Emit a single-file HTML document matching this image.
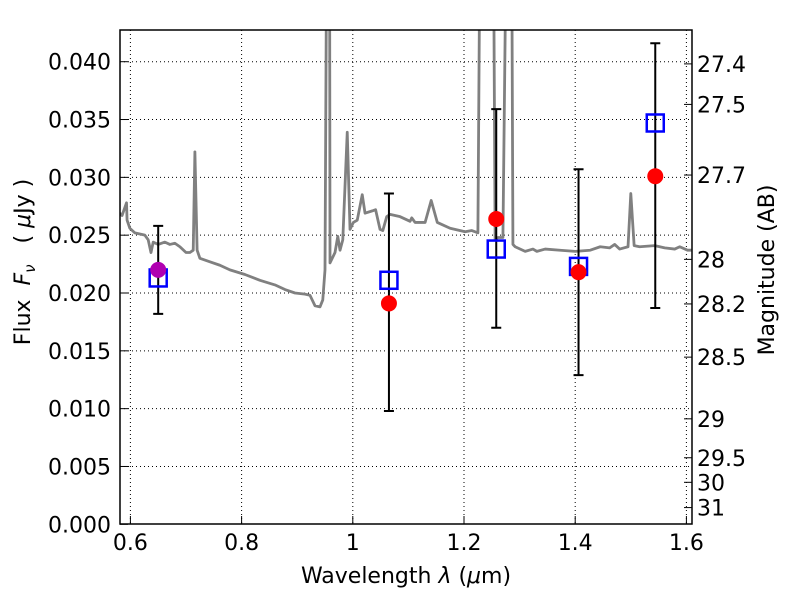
<!DOCTYPE html>
<html><head><meta charset="utf-8"><style>
body{margin:0;background:#fff;}
svg text{font-family:"DejaVu Sans","Liberation Sans",sans-serif;}
</style></head><body>
<svg id="chart" width="800" height="600" viewBox="0 0 800 600" xmlns="http://www.w3.org/2000/svg">
<defs><clipPath id="plotclip"><rect x="120" y="30" width="572" height="494"/></clipPath></defs>
<rect x="120" y="30" width="572" height="494" fill="#fff"/>
<g id="grid"></g>
<g id="spec" clip-path="url(#plotclip)"></g>
<g id="marks"></g>
<rect x="120" y="30" width="572" height="494" fill="none" stroke="#000" stroke-width="1.5"/>
<g id="axes"></g>
<text x="406" y="583" font-size="22" text-anchor="middle">Wavelength  <tspan font-style="italic">λ</tspan> (<tspan font-style="italic">μ</tspan>m)</text>
<text transform="translate(30,262) rotate(-90)" font-size="22" text-anchor="middle" xml:space="preserve">Flux  <tspan font-style="italic">F</tspan><tspan font-style="italic" font-size="15" dy="5">ν</tspan><tspan dy="-5">   ( </tspan><tspan font-style="italic">μ</tspan>Jy )</text>
<text transform="translate(774,270) rotate(-90)" font-size="22" text-anchor="middle">Magnitude (AB)</text>
</svg>
<script>
const specWave=[0.581,0.585,0.593,0.594,0.599,0.608,0.626,0.632,0.637,0.641,0.650,0.662,0.671,0.680,0.689,0.700,0.707,0.713,0.716,0.720,0.725,0.743,0.761,0.779,0.806,0.833,0.860,0.878,0.896,0.914,0.923,0.932,0.941,0.946,0.950,0.954,0.958,0.959,0.968,0.973,0.977,0.982,0.990,0.995,1.001,1.008,1.017,1.022,1.035,1.041,1.049,1.054,1.061,1.067,1.085,1.103,1.106,1.112,1.130,1.141,1.152,1.175,1.202,1.214,1.225,1.230,1.252,1.256,1.261,1.270,1.278,1.285,1.288,1.292,1.310,1.324,1.331,1.346,1.373,1.400,1.427,1.445,1.462,1.471,1.480,1.495,1.500,1.506,1.516,1.543,1.561,1.579,1.588,1.602,1.609];
const specFlux=[0.0269,0.0267,0.0278,0.0263,0.0256,0.0252,0.0250,0.0246,0.0235,0.0244,0.0242,0.0244,0.0242,0.0243,0.0240,0.0235,0.0235,0.0237,0.0322,0.0237,0.0230,0.0227,0.0224,0.0220,0.0216,0.0211,0.0207,0.0203,0.0200,0.0199,0.0198,0.0189,0.0188,0.0194,0.0220,0.060,0.060,0.0226,0.0235,0.0249,0.0237,0.0246,0.0339,0.0255,0.0261,0.0263,0.0285,0.0269,0.0271,0.0272,0.0255,0.0254,0.0266,0.0268,0.0266,0.0262,0.0265,0.0261,0.0261,0.0280,0.0261,0.0256,0.0253,0.0254,0.0252,0.060,0.060,0.0246,0.0248,0.0248,0.060,0.060,0.0242,0.0240,0.0236,0.0238,0.0236,0.0238,0.0237,0.0236,0.0237,0.0240,0.0239,0.0242,0.0238,0.0240,0.0286,0.0241,0.0240,0.0241,0.0239,0.0238,0.0240,0.0237,0.0237];
const photWave=[0.650,1.065,1.258,1.406,1.544];
const obsFlux=[0.0220,0.0191,0.0264,0.0218,0.0301];
const errHigh=[0.0258,0.0286,0.0359,0.0307,0.0416];
const errLow=[0.0182,0.0098,0.0170,0.0129,0.0187];
const modelFlux=[0.0213,0.0211,0.0238,0.0223,0.0347];
const xTicks=[0.6,0.8,1.0,1.2,1.4,1.6];
const xTickLabels=["0.6","0.8","1","1.2","1.4","1.6"];
const yTicks=[0,0.005,0.010,0.015,0.020,0.025,0.030,0.035,0.040];
const yTickLabels=["0.000","0.005","0.010","0.015","0.020","0.025","0.030","0.035","0.040"];
const magTicks=[27.4,27.5,27.7,28,28.2,28.5,29,29.5,30,31];
const magLabels=["27.4","27.5","27.7","28","28.2","28.5","29","29.5","30","31"];

const NS="http://www.w3.org/2000/svg";
const X=w=>130.4+(w-0.6)*556;
const Y=f=>524.3-f*11565;
function mk(tag,attrs,parent){const e=document.createElementNS(NS,tag);for(const k in attrs)e.setAttribute(k,attrs[k]);parent.appendChild(e);return e;}
const grid=document.getElementById('grid'),axes=document.getElementById('axes'),spec=document.getElementById('spec'),marks=document.getElementById('marks');
xTicks.forEach((t,i)=>{
  const g=mk('line',{x1:X(t),x2:X(t),y1:30,y2:524,stroke:'#000','stroke-width':1,'stroke-dasharray':'1,3'},grid);
  
  
  const tk=mk('line',{x1:X(t),x2:X(t),y1:524,y2:516,stroke:'#000'},axes);
  
  
  const tx=mk('text',{x:X(t),y:550,'font-size':22,'text-anchor':'middle'},axes);
  tx.textContent=xTickLabels[i];
  
  
});
yTicks.forEach((t,i)=>{
  if(t>0){const g=mk('line',{x1:120,x2:692,y1:Y(t),y2:Y(t),stroke:'#000','stroke-width':1,'stroke-dasharray':'1,3'},grid);
  
  }
  const tk=mk('line',{x1:120,x2:128,y1:Y(t),y2:Y(t),stroke:'#000'},axes);
  
  
  const tx=mk('text',{x:111,y:Y(t)+8,'font-size':22,'text-anchor':'end'},axes);
  tx.textContent=yTickLabels[i];
  
  
});
magTicks.forEach((m,i)=>{
  const f=Math.pow(10,(23.9-m)/2.5);
  const tk=mk('line',{x1:684,x2:692,y1:Y(f),y2:Y(f),stroke:'#000'},axes);
  
  
  const tx=mk('text',{x:697,y:Y(f)+8,'font-size':22},axes);
  tx.textContent=magLabels[i];
  
  
});
const pl=mk('polyline',{points:specWave.map((w,i)=>X(w)+','+Y(specFlux[i])).join(' '),fill:'none',stroke:'#808080','stroke-width':2.8,'stroke-linejoin':'round'},spec);


photWave.forEach((w,i)=>{
  const x=X(w);
  const eb=mk('path',{d:`M${x},${Y(errHigh[i])}V${Y(errLow[i])}M${x-5},${Y(errHigh[i])}h10M${x-5},${Y(errLow[i])}h10`,stroke:'#000','stroke-width':2,fill:'none'},marks);
  
  
  const sq=mk('rect',{x:x-8.5,y:Y(modelFlux[i])-8.5,width:17,height:17,fill:'none',stroke:'#0000ff','stroke-width':2.5},marks);
  
  
  const c=mk('circle',{cx:x,cy:Y(obsFlux[i]),r:8,fill:i===0?'#b000b0':'#ff0000'},marks);
  
  
});
</script>
</body></html>
